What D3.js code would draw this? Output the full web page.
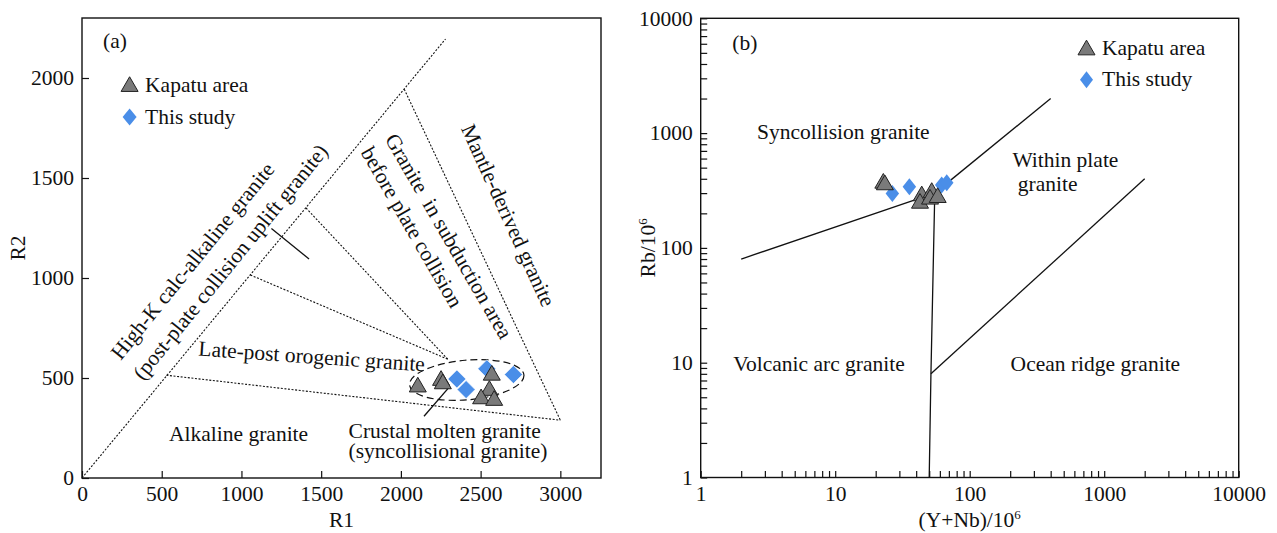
<!DOCTYPE html>
<html>
<head>
<meta charset="utf-8">
<script src="https://cdn.jsdelivr.net/npm/d3@7"></script>
<style>
  html, body { margin: 0; padding: 0; background: #fff; }
  svg { display: block; }
  text { font-family: "Liberation Serif", "Times New Roman", serif; fill: #111; }
</style>
</head>
<body>
<svg id="chart" width="1277" height="533"></svg>
<script>
// ---- data: panel (a) R1-R2 ----
const r1Ticks = [0, 500, 1000, 1500, 2000, 2500, 3000]
const r2Ticks = [0, 500, 1000, 1500, 2000]
const kapatuR1 = [2106, 2252, 2263, 2570, 2555, 2503, 2585]
const kapatuR2 = [467, 500, 483, 526, 450, 408, 400]
const studyR1 = [2351, 2409, 2539, 2706]
const studyR2 = [495, 442, 546, 517]

// field boundaries (dotted) and pointer lines, in R1/R2 units
const r1r2Boundaries = [
  [[0, 0], [2280, 2195]],
  [[2021, 1944], [3000, 289]],
  [[529, 514], [3000, 289]],
  [[1056, 1015], [2294, 594]],
  [[1405, 1350], [2294, 594]]
]
const r1r2Pointers = [
  [[1188, 1248], [1424, 1095]],
  [[2145, 309], [2307, 458]]
]
const clusterEllipse = { cx: 2413, cy: 490, rx: 360, ry: 99 }

// ---- data: panel (b) Rb vs Y+Nb ----
const logTicks = [1, 10, 100, 1000, 10000]
const kapatuYNb = [22.8, 23.4, 44.0, 42.7, 52.2, 50.7, 57.8]
const kapatuRb = [384, 372, 298, 257, 319, 279, 288]
const studyYNb = [26.6, 35.6, 61.9, 67.5]
const studyRb = [298, 341, 353, 369]
const pearceLines = [
  [[2, 80], [55, 300]],
  [[55, 300], [400, 2000]],
  [[55, 300], [51.5, 8], [50, 1]],
  [[51.5, 8], [2000, 400]]
]

const FONT = 21.5
const triFill = '#7a7a7a'
const diaFill = '#4a8ee8'

const svg = d3.select('#chart')

function trianglePath(w, h) {
  return `M0,${-h / 2}L${w / 2},${h / 2}L${-w / 2},${h / 2}Z`
}
function diamondPath(w, h) {
  return `M0,${-h / 2}L${w / 2},0L0,${h / 2}L${-w / 2},0Z`
}

function styleAxis(g) {
  g.select('.domain').remove()
  g.attr('font-size', FONT).attr('font-family', null)
  g.selectAll('.tick line').attr('stroke', '#111').attr('stroke-width', 1.2)
  g.selectAll('.tick text').attr('fill', '#111')
}

function frame(x0, y0, x1, y1) {
  svg.append('rect')
    .attr('x', x0).attr('y', y0)
    .attr('width', x1 - x0).attr('height', y1 - y0)
    .attr('fill', 'none')
    .attr('stroke', '#111')
    .attr('stroke-width', 1.4)
}

function addLabel(g, t, x, y, angle, anchor) {
  g.append('text')
    .attr('transform', `translate(${x},${y}) rotate(${angle || 0})`)
    .attr('text-anchor', anchor || 'middle')
    .attr('font-size', FONT)
    .attr('xml:space', 'preserve')
    .style('white-space', 'pre')
    .text(t)
}

function legend(g, x, y1, y2, dw, dh) {
  g.append('path').attr('d', trianglePath(17, 14.7))
    .attr('transform', `translate(${x},${y1})`)
    .attr('fill', triFill).attr('stroke', '#222').attr('stroke-width', 1)
  g.append('path').attr('d', diamondPath(dw, dh))
    .attr('transform', `translate(${x},${y2})`)
    .attr('fill', diaFill)
  g.append('text').attr('x', x + 15.5).attr('y', y1 + 7.5).attr('font-size', FONT).text('Kapatu area')
  g.append('text').attr('x', x + 15.5).attr('y', y2 + 6.5).attr('font-size', FONT).text('This study')
}

// ================= panel (a) =================
const xa = d3.scaleLinear().domain([0, 3255]).range([82, 601])
const ya = d3.scaleLinear().domain([0, 2300]).range([478, 18])
const ga = svg.append('g')

ga.append('g')
  .attr('transform', `translate(0,${ya(0)})`)
  .call(d3.axisBottom(xa).tickValues(r1Ticks).tickFormat(d3.format('d')).tickSizeInner(-7).tickSizeOuter(0).tickPadding(8))
  .call(styleAxis)
ga.append('g')
  .attr('transform', `translate(${xa(0)},0)`)
  .call(d3.axisLeft(ya).tickValues(r2Ticks).tickFormat(d3.format('d')).tickSizeInner(-7).tickSizeOuter(0).tickPadding(8))
  .call(styleAxis)
frame(xa(0), ya(2300), xa(3255), ya(0))

const lineA = d3.line().x(d => xa(d[0])).y(d => ya(d[1]))
ga.selectAll('.bnd').data(r1r2Boundaries).join('path')
  .attr('d', lineA)
  .attr('fill', 'none').attr('stroke', '#111').attr('stroke-width', 1.1)
  .attr('stroke-dasharray', '2,1.6')
ga.selectAll('.ptr').data(r1r2Pointers).join('path')
  .attr('d', lineA)
  .attr('fill', 'none').attr('stroke', '#111').attr('stroke-width', 1.3)

const ecx = xa(clusterEllipse.cx), ecy = ya(clusterEllipse.cy)
ga.append('ellipse')
  .attr('cx', ecx).attr('cy', ecy)
  .attr('rx', xa(clusterEllipse.rx) - xa(0))
  .attr('ry', ya(0) - ya(clusterEllipse.ry))
  .attr('transform', `rotate(-5,${ecx},${ecy})`)
  .attr('fill', 'none').attr('stroke', '#111').attr('stroke-width', 1.2)
  .attr('stroke-dasharray', '7,4')

ga.selectAll('.sa').data(studyR1).join('path')
  .attr('d', diamondPath(18, 18))
  .attr('transform', (d, i) => `translate(${xa(d)},${ya(studyR2[i])})`)
  .attr('fill', diaFill).attr('stroke', '#fff').attr('stroke-width', 0.6)
ga.selectAll('.ka').data(kapatuR1).join('path')
  .attr('d', trianglePath(17, 14.7))
  .attr('transform', (d, i) => `translate(${xa(d)},${ya(kapatuR2[i])})`)
  .attr('fill', triFill).attr('stroke', '#222').attr('stroke-width', 1)

addLabel(ga, '(a)', xa(207), ya(2149))
addLabel(ga, 'High-K calc-alkaline granite', xa(728), ya(1063), -51)
addLabel(ga, '(post-plate collision uplift granite)', xa(966), ya(1058), -51)
addLabel(ga, 'Granite  in subduction area', xa(2262), ya(1191), 60)
addLabel(ga, 'before plate collision', xa(2030), ya(1236), 60)
addLabel(ga, 'Mantle-derived granite', xa(2632), ya(1298), 65.5)
addLabel(ga, 'Late-post orogenic granite', xa(728), ya(612), 4, 'start')
addLabel(ga, 'Alkaline granite', xa(982), ya(187))
addLabel(ga, 'Crustal molten granite', xa(1672), ya(200), 0, 'start')
addLabel(ga, '(syncollisional granite)', xa(1672), ya(100), 0, 'start')

legend(ga, 129.6, 84.1, 117, 14, 17)

ga.append('text').attr('x', (xa(0) + xa(3255)) / 2).attr('y', 527)
  .attr('text-anchor', 'middle').attr('font-size', FONT).text('R1')
ga.append('text').attr('transform', `translate(25,${(ya(0) + ya(2300)) / 2}) rotate(-90)`)
  .attr('text-anchor', 'middle').attr('font-size', FONT).text('R2')

// ================= panel (b) =================
const xb = d3.scaleLog().domain([1, 10000]).range([700.7, 1238.7])
const yb = d3.scaleLog().domain([1, 10000]).range([477.5, 18.3])
const gb = svg.append('g')

const minorTicks = []
for (const dec of [1, 10, 100, 1000]) {
  for (let m = 2; m <= 9; m++) minorTicks.push(dec * m)
}

gb.append('g')
  .attr('transform', `translate(0,${yb(1)})`)
  .call(d3.axisBottom(xb).tickValues(logTicks).tickFormat(d3.format('d')).tickSizeInner(-6.5).tickSizeOuter(0).tickPadding(8))
  .call(styleAxis)
gb.append('g')
  .attr('transform', `translate(0,${yb(1)})`)
  .call(d3.axisBottom(xb).tickValues(minorTicks).tickFormat('').tickSizeInner(-6.5).tickSizeOuter(0))
  .call(styleAxis)
gb.append('g')
  .attr('transform', `translate(${xb(1)},0)`)
  .call(d3.axisLeft(yb).tickValues(logTicks).tickFormat(d3.format('d')).tickSizeInner(-6.5).tickSizeOuter(0).tickPadding(8))
  .call(styleAxis)
gb.append('g')
  .attr('transform', `translate(${xb(1)},0)`)
  .call(d3.axisLeft(yb).tickValues(minorTicks).tickFormat('').tickSizeInner(-6.5).tickSizeOuter(0))
  .call(styleAxis)
frame(xb(1), yb(10000), xb(10000), yb(1))

const lineB = d3.line().x(d => xb(d[0])).y(d => yb(d[1]))
gb.selectAll('.pl').data(pearceLines).join('path')
  .attr('d', lineB)
  .attr('fill', 'none').attr('stroke', '#111').attr('stroke-width', 1.3)

gb.selectAll('.sb').data(studyYNb).join('path')
  .attr('d', diamondPath(13.5, 17))
  .attr('transform', (d, i) => `translate(${xb(d)},${yb(studyRb[i])})`)
  .attr('fill', diaFill)
gb.selectAll('.kb').data(kapatuYNb).join('path')
  .attr('d', trianglePath(17, 14.7))
  .attr('transform', (d, i) => `translate(${xb(d)},${yb(kapatuRb[i])})`)
  .attr('fill', triFill).attr('stroke', '#222').attr('stroke-width', 1)

addLabel(gb, '(b)', xb(2.13), yb(5346))
addLabel(gb, 'Syncollision granite', xb(11.5), yb(887))
addLabel(gb, 'Within plate', xb(207.7), yb(506), 0, 'start')
addLabel(gb, ' granite', xb(207.7), yb(316), 0, 'start')
addLabel(gb, 'Volcanic arc granite', xb(7.58), yb(8.54))
addLabel(gb, 'Ocean ridge granite', xb(860), yb(8.54))

legend(gb, 1086.5, 47.5, 79.7, 13, 17)

const xt = gb.append('text').attr('x', (xb(1) + xb(10000)) / 2).attr('y', 527)
  .attr('text-anchor', 'middle').attr('font-size', FONT)
xt.append('tspan').text('(Y+Nb)/10')
xt.append('tspan').attr('dy', -8).attr('font-size', 13).text('6')

const yt = gb.append('text').attr('transform', `translate(655,${(yb(1) + yb(10000)) / 2}) rotate(-90)`)
  .attr('text-anchor', 'middle').attr('font-size', FONT)
yt.append('tspan').text('Rb/10')
yt.append('tspan').attr('dy', -8).attr('font-size', 13).text('6')
</script>
</body>
</html>
